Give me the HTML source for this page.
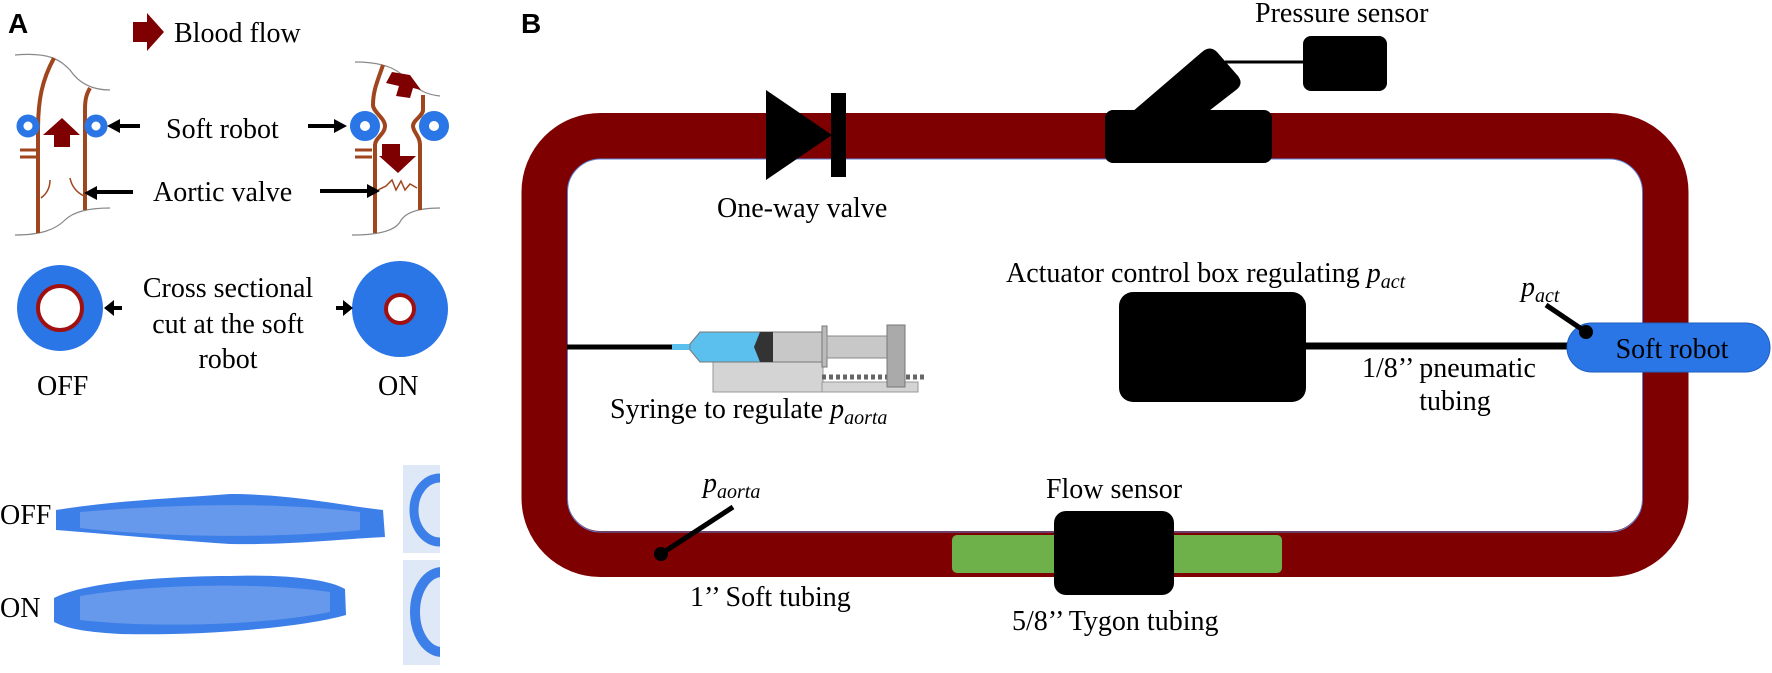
<!DOCTYPE html>
<html><head><meta charset="utf-8"><style>
html,body{margin:0;padding:0;background:#fff}
svg{display:block}
text{font-family:"Liberation Serif",serif;font-size:28px;fill:#000}
.sans{font-family:"Liberation Sans",sans-serif;font-weight:bold}
</style></head><body>
<svg width="1772" height="673" viewBox="0 0 1772 673" xmlns="http://www.w3.org/2000/svg">
<defs>
<clipPath id="c1"><rect x="403" y="465" width="37" height="88"/></clipPath>
<clipPath id="c2"><rect x="403" y="560" width="37" height="105"/></clipPath>
</defs>
<!-- Panel A -->
<text x="8" y="33" class="sans" font-size="24">A</text>
<path d="M133,22 H147 V13 L164,32 L147,51 V42 H133 Z" fill="#7f0000"/>
<text x="174" y="42">Blood flow</text>
<path d="M15,55 C50,52 60,60 70,70 C80,85 95,90 110,90" stroke="#888" stroke-width="1.2" fill="none"/>
<path d="M15,235 C40,235 55,230 65,220 C75,210 95,208 110,208" stroke="#888" stroke-width="1.2" fill="none"/>
<path d="M54,58 C42,80 38,100 38,130 V233" stroke="#a0461e" stroke-width="4" fill="none"/>
<path d="M90,88 C86,95 85,100 85,110 V210" stroke="#a0461e" stroke-width="4" fill="none"/>
<path d="M20,150 H37 M20,157 H37" stroke="#a0461e" stroke-width="3"/>
<path d="M50,180 C50,190 45,195 41,198 M70,178 C72,188 78,193 84,196" stroke="#a0461e" stroke-width="1.5" fill="none"/>
<circle cx="28" cy="126" r="8" fill="none" stroke="#2a76e6" stroke-width="7"/>
<circle cx="96" cy="126" r="8" fill="none" stroke="#2a76e6" stroke-width="7"/>
<path d="M43,135 L62,118 L80,135 H70 V147 H54 V135 Z" fill="#7f0000"/>
<path d="M140,126 H118" stroke="#000" stroke-width="4"/><path d="M107,126 L120,119 V133 Z" fill="#000"/>
<text x="166" y="138">Soft robot</text>
<path d="M308,126 H335" stroke="#000" stroke-width="4"/><path d="M347,126 L334,119 V133 Z" fill="#000"/>
<path d="M355,62 C390,62 400,72 410,82 C420,92 430,95 440,96" stroke="#888" stroke-width="1.2" fill="none"/>
<path d="M352,235 C380,235 395,230 400,222 C405,212 420,208 440,208" stroke="#888" stroke-width="1.2" fill="none"/>
<path d="M383,65 C378,80 373,90 373,105 C373,112 385,118 385,126 C385,134 375,138 375,145 V233" stroke="#a0461e" stroke-width="4" fill="none"/>
<path d="M423,95 V110 C423,116 413,120 413,126 C413,132 420,136 420,145 V210" stroke="#a0461e" stroke-width="4" fill="none"/>
<path d="M355,150 H372 M355,157 H372" stroke="#a0461e" stroke-width="3"/>
<path d="M378,190 L386,186 L392,180 L396,190 L401,181 L405,190 L410,184 L417,188" stroke="#a0461e" stroke-width="1.5" fill="none"/>
<circle cx="365" cy="126" r="10" fill="none" stroke="#2a76e6" stroke-width="10"/>
<circle cx="434" cy="126" r="10" fill="none" stroke="#2a76e6" stroke-width="10"/>
<path d="M392,72 L410,75 L421,90 L413,88 L410,98 L396,96 L399,86 L386,83 Z" fill="#7f0000"/>
<path d="M382,156 V144 H400 V156 H416 L398,173 L379,156 Z" fill="#7f0000"/>
<path d="M133,192 H95" stroke="#000" stroke-width="4"/><path d="M84,193 L97,186 V200 Z" fill="#000"/>
<text x="153" y="201">Aortic valve</text>
<path d="M320,191 H367" stroke="#000" stroke-width="4"/><path d="M380,191 L367,184 V198 Z" fill="#000"/>
<circle cx="60" cy="308" r="43" fill="#2a76e6"/>
<circle cx="60" cy="308" r="22" fill="#fff" stroke="#a01010" stroke-width="4"/>
<circle cx="400" cy="309" r="48" fill="#2a76e6"/>
<circle cx="400" cy="309" r="14" fill="#fff" stroke="#a01010" stroke-width="4"/>
<path d="M104,308 L114,300 V316 Z" fill="#000"/><path d="M112,308 H122" stroke="#000" stroke-width="4"/>
<path d="M353,308 L343,300 V316 Z" fill="#000"/><path d="M345,308 H336" stroke="#000" stroke-width="4"/>
<text x="228" y="297" text-anchor="middle">Cross sectional</text>
<text x="228" y="333" text-anchor="middle">cut at the soft</text>
<text x="228" y="368" text-anchor="middle">robot</text>
<text x="37" y="395">OFF</text>
<text x="378" y="395">ON</text>
<text x="0" y="524" font-size="22">OFF</text>
<text x="0" y="617" font-size="22">ON</text>
<path d="M56,510 C120,500 180,498 230,494 C290,494 340,505 383,510 L385,537 C330,540 290,545 230,544 C170,540 120,535 56,530 Z" fill="#3d7fe8"/>
<path d="M80,512 C150,506 260,500 360,512 L360,530 C260,540 150,536 80,528 Z" fill="#8fb2ef" opacity="0.5"/>
<path d="M54,598 C90,580 180,576 230,576 C290,574 330,580 345,589 L346,615 C300,628 200,636 120,634 C90,632 70,630 54,622 Z" fill="#3d7fe8"/>
<path d="M80,596 C150,584 260,582 330,592 L330,612 C260,626 150,628 80,620 Z" fill="#8fb2ef" opacity="0.5"/>
<rect x="403" y="465" width="37" height="88" fill="#dfe8f7"/>
<g clip-path="url(#c1)"><ellipse cx="440" cy="510" rx="26" ry="32" fill="none" stroke="#3d7fe8" stroke-width="9"/></g>
<rect x="403" y="560" width="37" height="105" fill="#dfe8f7"/>
<g clip-path="url(#c2)"><ellipse cx="442" cy="612" rx="27" ry="40" fill="none" stroke="#3d7fe8" stroke-width="10"/></g>

<!-- Panel B -->
<text x="521" y="33" class="sans" font-size="24">B</text>
<rect x="544.5" y="136" width="1121" height="418" rx="56" fill="none" stroke="#7f0000" stroke-width="46"/>
<rect x="567.5" y="159" width="1075" height="373" rx="33" fill="none" stroke="#5a7fd0" stroke-width="1"/>
<path d="M766,90 L832,135 L766,180 Z" fill="#000"/>
<rect x="831" y="93" width="15" height="84" fill="#000"/>
<text x="717" y="217">One-way valve</text>
<path d="M1125,118 L1202,52 Q1210,45 1217,52 L1238,76 Q1244,84 1236,90 L1205,114 Z" fill="#000"/>
<rect x="1105" y="110" width="167" height="53" rx="8" fill="#000"/>
<rect x="1303" y="36" width="84" height="55" rx="8" fill="#000"/>
<path d="M1225,62 H1305" stroke="#000" stroke-width="3"/>
<text x="1255" y="22">Pressure sensor</text>
<path d="M567,347 H672" stroke="#000" stroke-width="5"/>
<rect x="713" y="362" width="110" height="30" fill="#d4d4d4" stroke="#999"/>
<rect x="822" y="382" width="96" height="10" fill="#d4d4d4" stroke="#999"/>
<path d="M822,377 H924" stroke="#666" stroke-width="5" stroke-dasharray="4,3"/>
<rect x="672" y="344" width="20" height="6" fill="#5bc0ee"/>
<path d="M690,344 L700,332 H760 V362 H700 L690,350 Z" fill="#5bc0ee" stroke="#777"/>
<rect x="760" y="332" width="62" height="30" fill="#c8c8c8" stroke="#777"/>
<path d="M760,332 H773 V362 H760 L754,347 Z" fill="#333"/>
<rect x="822" y="326" width="5" height="41" fill="#bbb" stroke="#777"/>
<rect x="827" y="336" width="64" height="22" fill="#c8c8c8" stroke="#888"/>
<rect x="887" y="325" width="18" height="62" fill="#aaa" stroke="#777"/>
<text x="610" y="418">Syringe to regulate <tspan font-style="italic">p</tspan><tspan font-style="italic" font-size="20" dy="6">aorta</tspan></text>
<rect x="1119" y="292" width="187" height="110" rx="14" fill="#000"/>
<path d="M1306,346 H1570" stroke="#000" stroke-width="7"/>
<text x="1006" y="282">Actuator control box regulating <tspan font-style="italic">p</tspan><tspan font-style="italic" font-size="20" dy="6">act</tspan></text>
<rect x="1567" y="323" width="203" height="49" rx="24.5" fill="#2a76e6" stroke="#1e5ec0"/>
<text x="1672" y="358" text-anchor="middle">Soft robot</text>
<path d="M1546,305 L1586,332" stroke="#000" stroke-width="5"/>
<circle cx="1586" cy="332" r="7" fill="#000"/>
<text x="1521" y="296" font-style="italic">p<tspan font-size="20" dy="6">act</tspan></text>
<text x="1362" y="377">1/8’’ pneumatic</text>
<text x="1455" y="410" text-anchor="middle">tubing</text>
<rect x="952" y="535" width="330" height="38" rx="5" fill="#6eb04a"/>
<rect x="1054" y="511" width="120" height="84" rx="12" fill="#000"/>
<text x="1114" y="498" text-anchor="middle">Flow sensor</text>
<text x="1012" y="630">5/8’’ Tygon tubing</text>
<path d="M661,554 L733,507" stroke="#000" stroke-width="5"/>
<circle cx="661" cy="554" r="7" fill="#000"/>
<text x="703" y="492" font-style="italic">p<tspan font-size="20" dy="6">aorta</tspan></text>
<text x="690" y="606">1’’ Soft tubing</text>
</svg>
</body></html>
